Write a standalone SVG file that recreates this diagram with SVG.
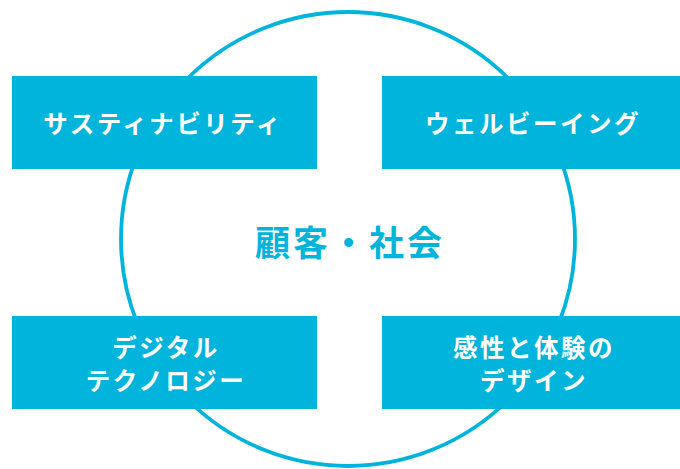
<svg xmlns="http://www.w3.org/2000/svg" width="680" height="469" viewBox="0 0 680 469">
<style>
.box{fill:#00b4dc}
.lbl{fill:#ffffff;font-family:"Noto Sans CJK JP","Noto Sans",sans-serif;font-weight:bold;font-size:24.5px;letter-spacing:2.5px;text-anchor:middle;dominant-baseline:central}
.center{fill:#00b4dc;font-family:"Noto Sans CJK JP","Noto Sans",sans-serif;font-weight:bold;font-size:35px;letter-spacing:3px;text-anchor:middle;dominant-baseline:central}
</style>
<rect width="680" height="469" fill="#ffffff"/>
<g id="connectors">
<circle cx="348" cy="239" r="227" fill="none" stroke="#00b4dc" stroke-width="3.8"/>
</g>
<g id="center">
<text class="center" x="350" y="240">顧客・社会</text>
</g>
<g id="sustainability">
<rect class="box" x="12" y="76" width="305" height="93"/>
<text class="lbl" x="163" y="122">サスティナビリティ</text>
</g>
<g id="wellbeing">
<rect class="box" x="382" y="76" width="298" height="93"/>
<text class="lbl" x="533" y="122">ウェルビーイング</text>
</g>
<g id="digital">
<rect class="box" x="12" y="316" width="305" height="93"/>
<text class="lbl" x="166" y="346">デジタル</text>
<text class="lbl" x="166" y="379">テクノロジー</text>
</g>
<g id="design">
<rect class="box" x="382" y="316" width="298" height="93"/>
<text class="lbl" x="534" y="346">感性と体験の</text>
<text class="lbl" x="534" y="379">デザイン</text>
</g>
</svg>
